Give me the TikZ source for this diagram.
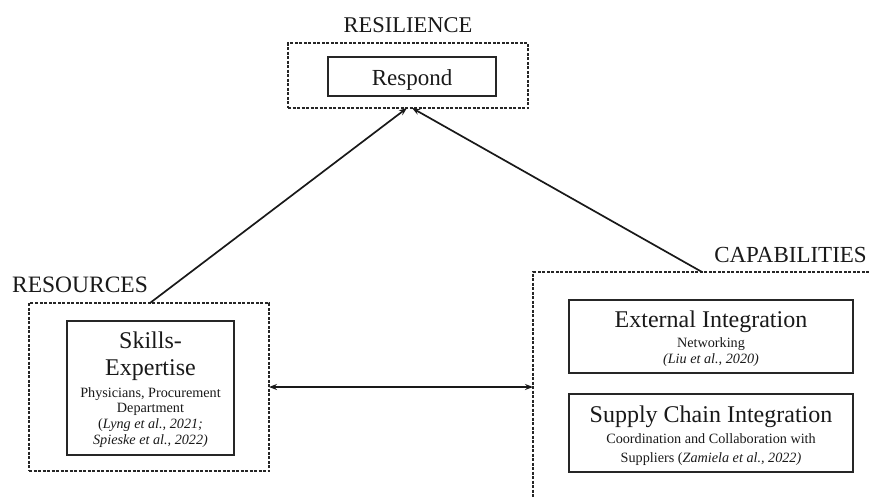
\documentclass[tikz,border=0pt]{standalone}
\usepackage{fontspec}
\setmainfont{Liberation Serif}
\usetikzlibrary{arrows.meta}
\begin{document}
\begin{tikzpicture}[x=1pt,y=-1pt,
 dashbox/.style={draw=black!85, dash pattern=on 3pt off 1.5pt, line width=1.1pt, inner sep=0pt, outer sep=0pt},
 solidbox/.style={draw=black!85, line width=1.4pt, inner sep=0pt, outer sep=0pt},
 txt/.style={anchor=base, inner sep=0pt, text=black!90},
 head/.style={txt, font=\fontsize{22.5}{26}\selectfont},
 big/.style={txt, font=\fontsize{24}{27}\selectfont},
 small/.style={txt, font=\fontsize{14.2}{16}\selectfont},
 arr/.style={line width=1.7pt, draw=black!90, -{Stealth[length=8pt,width=6pt]}},
 darr/.style={line width=1.7pt, draw=black!90, {Stealth[length=8pt,width=6pt]}-{Stealth[length=8pt,width=6pt]}},
]
\useasboundingbox (0,0) rectangle (869,498);

% RESILIENCE
\node[head] (lresil) at (408,32) {RESILIENCE};
\node[dashbox, minimum width=240pt, minimum height=65pt] (resbox) at (408,75.5) {};
\node[solidbox, minimum width=168pt, minimum height=39pt] (respond) at (412,76.5) {};
\node[big, font=\fontsize{23}{26}\selectfont] (trespond) at (412,85) {Respond};

% RESOURCES
\node[head, font=\fontsize{23.5}{26}\selectfont] (lres) at (80,292) {RESOURCES};
\node[dashbox, minimum width=240pt, minimum height=168pt] (resources) at (149,387) {};
\node[solidbox, minimum width=167pt, minimum height=134pt] (skills) at (150.5,388) {};
\node[big] (s1) at (150.5,348) {Skills-};
\node[big] (s2) at (150.5,375) {Expertise};
\node[small] (s3) at (150.5,397) {Physicians, Procurement};
\node[small] (s4) at (150.5,412.5) {Department};
\node[small] (s5) at (150.5,428) {(\textit{Lyng et al., 2021;}};
\node[small] (s6) at (150.5,444) {\textit{Spieske et al., 2022)}};

% CAPABILITIES
\node[head, font=\fontsize{23}{26}\selectfont] (lcap) at (790.5,262) {CAPABILITIES};
\coordinate (capTL) at (533,272);
\coordinate (capTR) at (869,272);
\coordinate (capBL) at (533,498);
\draw[draw=black!85, dash pattern=on 3pt off 1.5pt, line width=1.1pt] (capTR) -- (capTL) -- (capBL);

\node[solidbox, minimum width=284pt, minimum height=73pt] (ext) at (711,336.5) {};
\node[big] (e1) at (711,327) {External Integration};
\node[small] (e2) at (711,347) {Networking};
\node[small] (e3) at (711,363) {\textit{(Liu et al., 2020)}};

\node[solidbox, minimum width=284pt, minimum height=78pt] (sup) at (711,433) {};
\node[big] (u1) at (711,422) {Supply Chain Integration};
\node[small] (u2) at (711,443) {Coordination and Collaboration with};
\node[small] (u3) at (711,462) {Suppliers (\textit{Zamiela et al., 2022)}};

% connectors
\coordinate (capstart) at (702,272);
\draw[arr] ([xshift=1pt]resources.north) -- ([xshift=-1pt]resbox.south);
\draw[arr] (capstart) -- ([xshift=4pt]resbox.south);
\coordinate (capleft) at (533,387);
\draw[darr] (resources.east) -- (capleft);
\end{tikzpicture}
\end{document}
